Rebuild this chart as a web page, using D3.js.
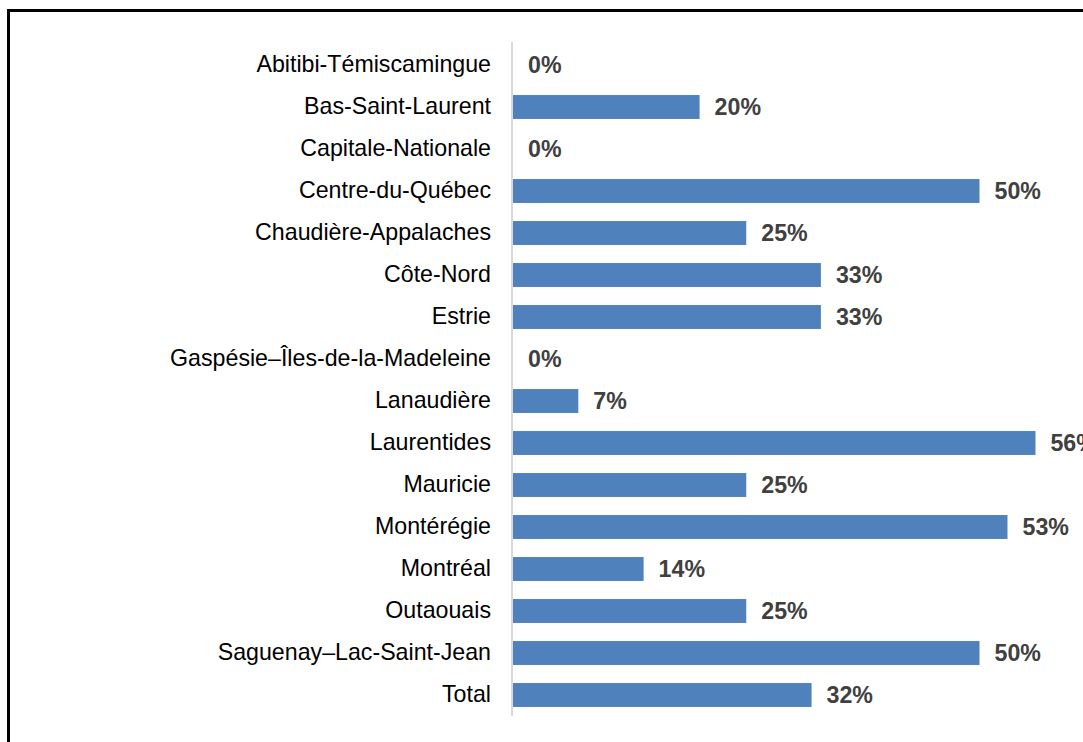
<!DOCTYPE html>
<html>
<head>
<meta charset="utf-8">
<script src="https://cdn.jsdelivr.net/npm/d3@7"></script>
<style>
  body { margin: 0; background: #fff; }
  svg { display: block; font-family: "Liberation Sans", Arial, sans-serif; }
</style>
</head>
<body>
<div id="container"></div>
<script>
let regions = [
    "Abitibi-Témiscamingue", "Bas-Saint-Laurent", "Capitale-Nationale", "Centre-du-Québec",
    "Chaudière-Appalaches", "Côte-Nord", "Estrie", "Gaspésie–Îles-de-la-Madeleine",
    "Lanaudière", "Laurentides", "Mauricie", "Montérégie", "Montréal", "Outaouais",
    "Saguenay–Lac-Saint-Jean", "Total"
];
let shares = [0, 20, 0, 50, 25, 33, 33, 0, 7, 56, 25, 53, 14, 25, 50, 32];

let W = 1083, H = 742;
let FONT = 23.2;
let svg = d3.select('#container').append('svg')
    .attr('width', W)
    .attr('height', H);

// outer frame (right and bottom edges fall outside the picture)
svg.append('rect')
    .attr('x', 8.5).attr('y', 10.5)
    .attr('width', 1200).attr('height', 900)
    .attr('fill', 'none')
    .attr('stroke', '#000')
    .attr('stroke-width', 3);

let x = d3.scaleLinear().domain([0, 100]).range([513, 1446]);
let y = d3.scaleBand().domain(regions).range([44, 716]).paddingInner(0.43).paddingOuter(0.215);

let rows = regions.map((r, i) => ({ region: r, value: shares[i] }));

svg.selectAll('rect.bar')
    .data(rows)
    .enter().append('rect')
    .attr('class', 'bar')
    .attr('x', x(0))
    .attr('y', d => y(d.region))
    .attr('width', d => x(d.value) - x(0))
    .attr('height', y.bandwidth())
    .attr('fill', '#4f81bd');

svg.selectAll('text.val')
    .data(rows)
    .enter().append('text')
    .attr('class', 'val')
    .attr('x', d => x(d.value) + 15)
    .attr('y', d => y(d.region) + y.bandwidth() / 2)
    .attr('dy', '0.35em')
    .attr('font-size', FONT)
    .attr('font-weight', 'bold')
    .attr('fill', '#404040')
    .text(d => d.value + '%');

let yAxis = svg.append('g')
    .attr('transform', 'translate(' + x(0) + ',0)')
    .call(d3.axisLeft(y).tickSize(0).tickPadding(22));
yAxis.select('.domain').attr('stroke', '#d9d9d9').attr('stroke-width', 2).attr('d', 'M-1,42V716');
yAxis.selectAll('text')
    .attr('font-size', FONT)
    .attr('font-family', '"Liberation Sans", Arial, sans-serif')
    .attr('fill', '#000');
</script>
</body>
</html>
